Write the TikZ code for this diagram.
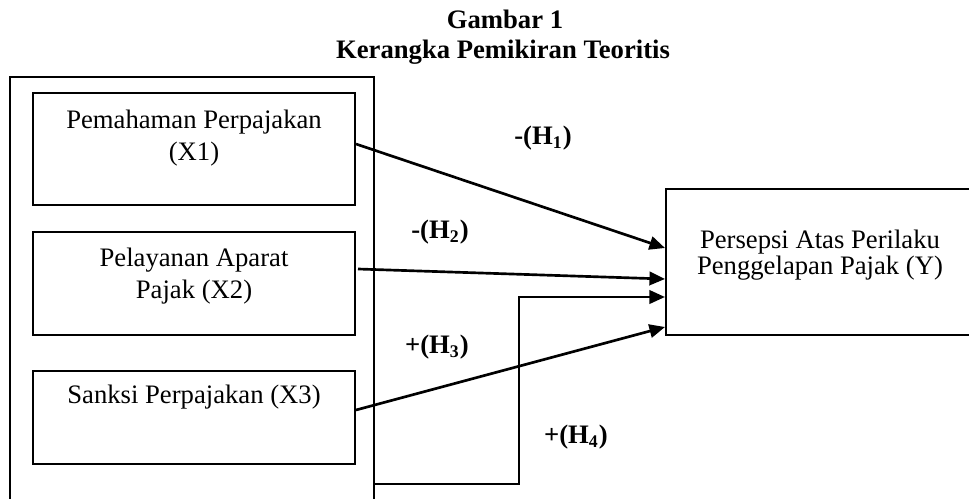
\documentclass[tikz,border=0pt]{standalone}
\usepackage{fontspec}
\setmainfont{Liberation Serif}
\usetikzlibrary{arrows.meta,fit,calc}

\begin{document}
\begin{tikzpicture}[
				x = 0.45pt, y = -0.45pt,
				box/.style = {draw, line width = 0.9pt, inner sep = 0pt},
				txt/.style = {anchor = base, align = center, inner sep = 0pt,
					font = \fontsize{12}{14.2}\selectfont},
				judul/.style = {anchor = base, inner sep = 0pt,
					font = \fontsize{12}{14}\selectfont\bfseries},
				hyp/.style = {font = \fontsize{12}{14}\selectfont\bfseries},
				arr/.style = {line width = 1.2pt, -{Triangle[length = 7pt, width = 6pt]}}
			]

			\clip (0,0) rectangle (969,499);

			% judul
			\node[judul] (judul1) at (505,29) {Gambar 1};
			\node[judul] (judul2) at (503,58) {Kerangka Pemikiran Teoritis};

			% kotak variabel
			\node[box, fit = {(10,77) (374,530)}] (luar) {};
			\node[box, fit = {(33,93) (355,205)}] (x1) {};
			\node[box, fit = {(33,232) (355,335)}] (x2) {};
			\node[box, fit = {(33,371) (355,464)}] (x3) {};
			\node[box, fit = {(666,189) (974,335)}] (y) {};

			% base = baris terakhir
			\node[txt] (x1t) at (194,160) {Pemahaman Perpajakan\\(X1)};
			\node[txt] (x2t) at (194,298) {Pelayanan Aparat\\Pajak (X2)};
			\node[txt] (x3t) at (194,403) {Sanksi Perpajakan (X3)};
			\node[txt, font = \fontsize{12}{11.7}\selectfont] (yt) at (820,274) {Persepsi Atas Perilaku\\Penggelapan Pajak (Y)};

			% hipotesis
			\draw[arr] ($(x1.east)+(0,-5)$) -- ($(y.west)+(0,-14)$);
			\draw[arr] ($(x2.east)+(2,-14.5)$) -- ($(y.west)+(0,17)$);
			\draw[arr] ($(luar.north east)+(0,408)$) -- ++(144,0) |- ($(y.west)+(0,35)$);
			\draw[arr] ($(x3.east)+(0,-7.5)$) -- ($(y.west)+(0,65)$);

			\node[hyp] (h1) at (543,138) {-(H\textsubscript{1})};
			\node[hyp] (h2) at (440,232) {-(H\textsubscript{2})};
			\node[hyp] (h3) at (437,347) {+(H\textsubscript{3})};
			\node[hyp] (h4) at (576,437) {+(H\textsubscript{4})};

			\end{tikzpicture}
\end{document}
